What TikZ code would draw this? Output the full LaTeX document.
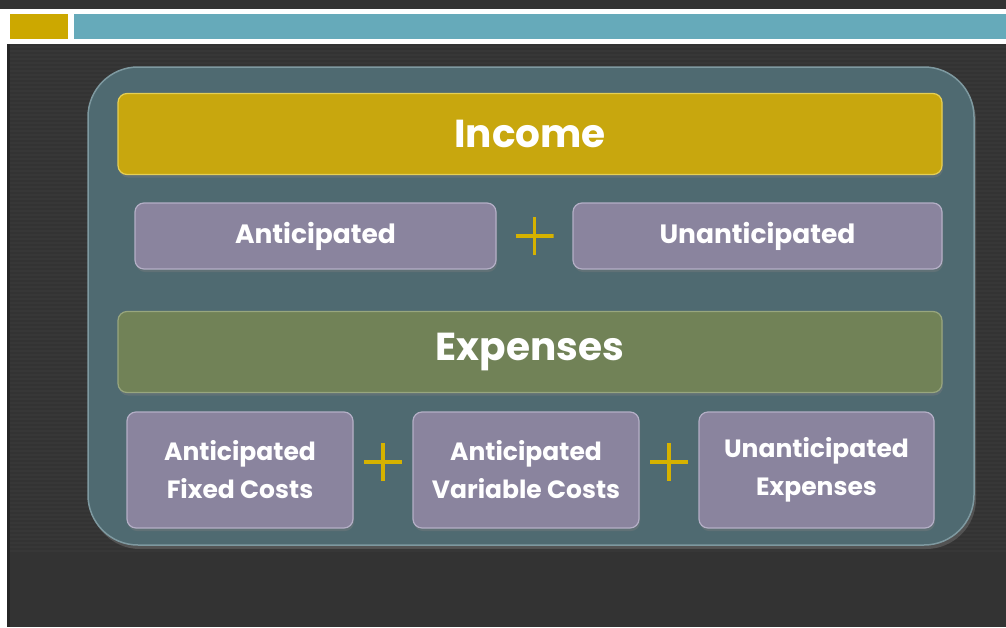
\documentclass[tikz,border=0pt]{standalone}
\usepackage{fontspec}
\setmainfont{Poppins}
\usetikzlibrary{calc,shadows}

\definecolor{slidebg}{HTML}{333333}
\definecolor{stripe}{HTML}{373737}
\definecolor{panelfill}{HTML}{4F6A71}
\definecolor{panelrim}{HTML}{7E99A0}
\definecolor{incomegold}{HTML}{C8A70E}
\definecolor{goldrim}{HTML}{E6CF55}
\definecolor{lavender}{HTML}{8A849E}
\definecolor{lavrim}{HTML}{B4AFC6}
\definecolor{sage}{HTML}{718257}
\definecolor{sagerim}{HTML}{98A67E}
\definecolor{topteal}{HTML}{66AABA}
\definecolor{topgold}{HTML}{CCA800}
\definecolor{plusgold}{HTML}{D6B200}

\tikzset{
  bar/.style={rounded corners=9pt, minimum width=824pt, minimum height=81pt,
    line width=1.2pt, text=white, font=\fontsize{39}{46}\selectfont\bfseries,
    drop shadow={shadow xshift=1pt, shadow yshift=-3pt, opacity=.35}},
  part/.style={rounded corners=9pt, fill=lavender, draw=lavrim, line width=1.2pt,
    text=white, align=center, font=\fontsize{25}{38}\selectfont\bfseries,
    drop shadow={shadow xshift=1pt, shadow yshift=-3pt, opacity=.35}},
  plussign/.style={minimum size=38pt, inner sep=0pt,
    path picture={
      \draw[plusgold, line width=3.5pt]
        (path picture bounding box.north) -- (path picture bounding box.south)
        (path picture bounding box.west) -- (path picture bounding box.east);}},
}

\begin{document}
\begin{tikzpicture}[x=1pt, y=-1pt]
  \useasboundingbox (0,0) rectangle (1006,627);

  % slide background
  \fill[slidebg] (0,0) rectangle (1006,627);
  \foreach \y in {46,50,...,550}
    \fill[stripe] (10,\y) rectangle (1006,\y+2);
  \fill[white] (0,9) rectangle (7,627);
  \fill[black!85] (7,44) rectangle (10,627);

  % title band
  \fill[white] (0,9) rectangle (1006,44);
  \fill[topgold] (10,14) rectangle (68,39);
  \fill[topteal] (74,14) rectangle (1006,39);

  % panel
  \filldraw[fill=panelfill, draw=panelrim, line width=1.5pt, rounded corners=50pt,
    drop shadow={shadow xshift=2pt, shadow yshift=-4pt, opacity=.4}]
    (88,67) rectangle (974,545);

  % income
  \node[bar, fill=incomegold, draw=goldrim] (income) at (530,134) {Income};
  \node[part, font=\fontsize{26.5}{38}\selectfont\bfseries,
    minimum width=361pt, minimum height=66pt] (ant) at (315.5,236) {Anticipated};
  \node[part, font=\fontsize{26.5}{38}\selectfont\bfseries,
    minimum width=369pt, minimum height=66pt] (unant) at (757.5,236) {Unanticipated};
  \node[plussign] (plusa) at ($(ant.east)!.5!(unant.west)$) {};

  % expenses
  \node[bar, fill=sage, draw=sagerim] (expenses) at (530,352) {Expenses};
  \node[part, minimum width=226pt, minimum height=116pt] (fixed) at (240,470)
    {Anticipated\\Fixed Costs};
  \node[part, minimum width=226pt, minimum height=116pt] (variable) at (526,470)
    {Anticipated\\Variable Costs};
  \node[part, minimum width=235pt, minimum height=116pt] (unexp) at (816.5,470)
    {Unanticipated\\Expenses};
  \node[plussign] (plusb) at ($(fixed.east)!.5!(variable.west)+(0,-8)$) {};
  \node[plussign] (plusc) at ($(variable.east)!.5!(unexp.west)+(0,-8)$) {};
\end{tikzpicture}
\end{document}
